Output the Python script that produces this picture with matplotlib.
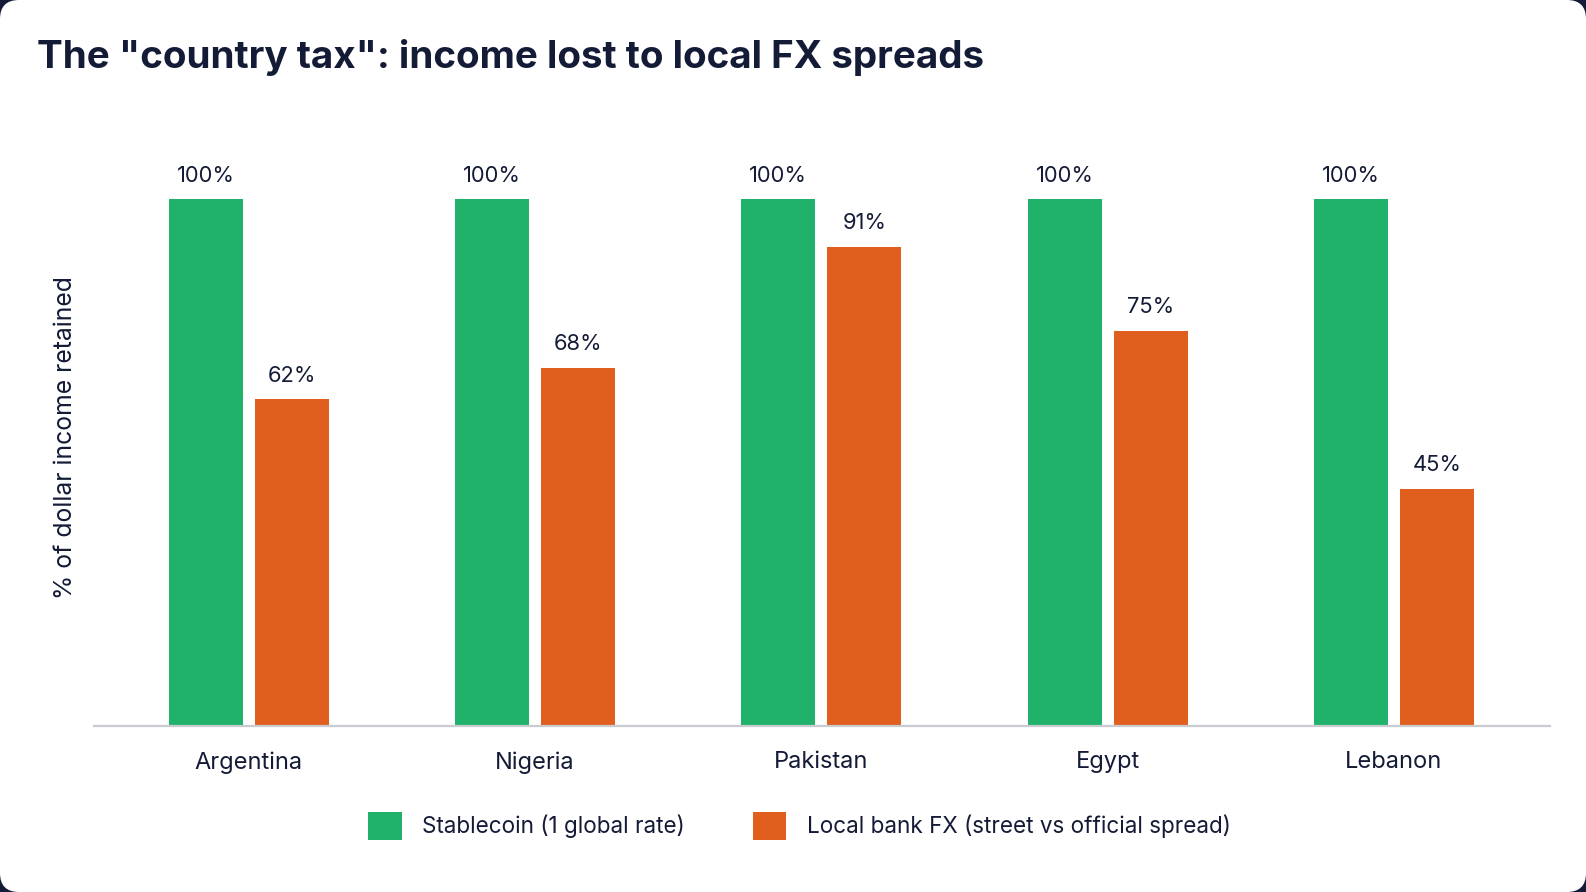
import matplotlib.pyplot as plt
import numpy as np
from matplotlib.patches import FancyBboxPatch, Patch

plt.rcParams['font.family'] = ['Inter', 'DejaVu Sans']

countries = ["Argentina", "Nigeria", "Pakistan", "Egypt", "Lebanon"]
stablecoin = [100, 100, 100, 100, 100]
local_fx = [62, 68, 91, 75, 45]
series_names = ["Stablecoin (1 global rate)", "Local bank FX (street vs official spread)"]

GREEN = "#20b26a"
ORANGE = "#e05f1e"
INK = "#141b36"

fig = plt.figure(figsize=(15.86, 8.92), dpi=100, facecolor="#141b36")
# white card with rounded corners, dark only in the very corners
card = FancyBboxPatch((0.0, 0.0), 1.0, 1.0, boxstyle="round,pad=0,rounding_size=0.012",
                      transform=fig.transFigure, facecolor="white", edgecolor="none",
                      mutation_aspect=1586 / 892, zorder=-5)
fig.patches.append(card)

ax = fig.add_axes([0.0593, 0.186, 0.918, 0.668])
ax.set_facecolor("none")

x = np.arange(len(countries))
w = 0.258
off = 0.15
b1 = ax.bar(x - off, stablecoin, w, color=GREEN, zorder=2)
b2 = ax.bar(x + off, local_fx, w, color=ORANGE, zorder=2)

for bars, vals in ((b1, stablecoin), (b2, local_fx)):
    for r, v in zip(bars, vals):
        ax.text(r.get_x() + r.get_width() / 2, v + 2.6, f"{v}%", ha="center", va="bottom",
                fontsize=15.8, color=INK)

ax.set_xlim(-0.54, 4.545)
ax.set_ylim(0, 113.1)
ax.set_xticks(x)
ax.set_xticklabels(countries, fontsize=17, color=INK)
ax.tick_params(axis="x", length=0, pad=18)
ax.set_yticks([])
for s in ("top", "right", "left"):
    ax.spines[s].set_visible(False)
ax.spines["bottom"].set_color("#c9cbd0")
ax.spines["bottom"].set_linewidth(1.6)

fig.text(0.0415, 0.51, "% of dollar income retained", rotation=90, ha="center", va="center",
         fontsize=17.8, color=INK)

fig.text(0.0235, 0.935, 'The "country tax": income lost to local FX spreads', ha="left", va="center",
         fontsize=27.8, fontweight="bold", color=INK)

handles = [Patch(facecolor=GREEN), Patch(facecolor=ORANGE)]
fig.legend(handles, series_names, loc="center", bbox_to_anchor=(0.504, 0.074), ncol=2, frameon=False,
           fontsize=16.2, handlelength=1.5, handleheight=1.5, handletextpad=0.9, columnspacing=3.0,
           labelcolor=INK)

fig.savefig("out.png", dpi=100, facecolor=fig.get_facecolor())
